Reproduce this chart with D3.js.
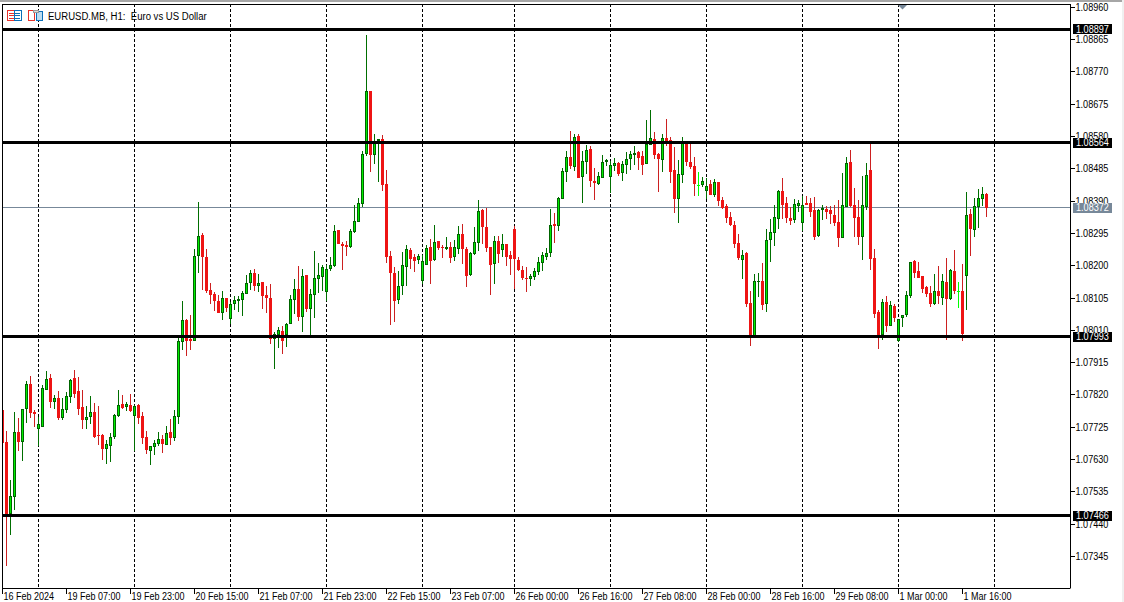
<!DOCTYPE html>
<html><head><meta charset="utf-8">
<script src="https://cdn.jsdelivr.net/npm/d3@7/dist/d3.min.js"></script>
<style>
html,body{margin:0;padding:0;background:#fff;overflow:hidden}
svg{display:block}
text{font-family:"Liberation Sans",Arial,sans-serif;font-size:10px;fill:#000}
</style></head><body>
<svg id="c" width="1124" height="602"></svg>
<script>
// Prices in points (1 point = 0.00001)
const opens=[107776,107682,107470,107521,107712,107682,107778,107853,107770,107721,
107727,107835,107870,107800,107811,107753,107776,107814,107870,107832,
107785,107745,107756,107770,107703,107703,107662,107670,107697,107759,
107794,107785,107791,107759,107791,107759,107697,107656,107667,107676,
107691,107673,107712,107694,107756,107976,108041,107985,107979,108229,
108291,108226,108129,108117,108097,108061,108105,108044,108088,108097,
108100,108117,108150,108179,108141,108153,108114,108105,107985,107997,
108008,107996,108029,108100,108132,108050,108173,108073,108114,108161,
108167,108123,108191,108200,108305,108264,108261,108255,108300,108329,
108381,108528,108714,108525,108567,108573,108440,108229,108179,108099,
108140,108196,108246,108226,108217,108155,108202,108255,108217,108273,
108255,108249,108255,108226,108249,108293,108249,108173,108234,108267,
108364,108314,108255,108205,108273,108246,108264,108232,108308,108217,
108187,108164,108161,108167,108182,108208,108226,108238,108323,108317,
108396,108476,108520,108491,108582,108461,108505,108543,108449,108441,
108458,108505,108461,108493,108502,108473,108496,108514,108526,108535,
108523,108499,108555,108573,108529,108511,108576,108570,108482,108396,
108467,108561,108505,108494,108439,108438,108420,108441,108408,108447,
108394,108376,108344,108320,108267,108217,108238,108091,107987,108153,
108155,108088,108276,108297,108338,108420,108385,108341,108335,108376,
108326,108385,108385,108364,108288,108364,108367,108364,108350,108329,
108282,108373,108505,108379,108344,108285,108373,108482,108223,108064,
107997,108094,108023,108082,107979,108047,108056,108111,108214,108185,
108170,108138,108120,108088,108126,108105,108153,108103,108185,108127,
108126,108170,108352,108305,108373,108397,108411];
const highs=[107776,107715,107570,107770,107753,107778,107861,107876,107776,107756,
107850,107891,107882,107820,107832,107811,107829,107867,107894,107873,
107835,107788,107817,107797,107788,107706,107688,107709,107764,107835,
107820,107800,107823,107791,107794,107770,107714,107670,107688,107712,
107703,107729,107750,107776,107987,108097,108044,108055,108250,108388,
108297,108250,108150,108123,108114,108126,108105,108094,108111,108111,
108126,108173,108188,108191,108176,108153,108141,108147,108006,108020,
108023,108032,108114,108161,108200,108191,108173,108132,108244,108208,
108202,108202,108226,108320,108305,108270,108273,108308,108379,108399,
108537,108878,108714,108587,108573,108584,108481,108243,108196,108184,
108240,108261,108252,108234,108234,108231,108261,108279,108320,108273,
108261,108284,108270,108276,108317,108323,108255,108240,108314,108393,
108367,108370,108255,108287,108287,108293,108264,108243,108317,108226,
108199,108196,108176,108193,108226,108240,108252,108367,108355,108402,
108488,108538,108596,108588,108588,108538,108555,108552,108488,108476,
108526,108514,108508,108517,108505,108508,108535,108538,108552,108538,
108538,108629,108658,108593,108532,108588,108632,108579,108549,108511,
108579,108564,108564,108520,108476,108461,108458,108452,108455,108447,
108402,108382,108358,108332,108294,108247,108241,108126,108176,108179,
108208,108308,108338,108379,108423,108458,108402,108373,108397,108394,
108405,108405,108399,108402,108367,108379,108376,108376,108379,108394,
108473,108520,108541,108429,108394,108464,108502,108560,108250,108070,
108103,108111,108097,108088,108044,108056,108126,108211,108217,108211,
108170,108141,108141,108176,108200,108176,108223,108191,108247,108153,
108205,108417,108367,108399,108426,108432,108414];
const lows=[107680,107318,107409,107482,107656,107626,107738,107753,107725,107670,
107727,107835,107782,107779,107747,107747,107767,107797,107811,107761,
107720,107720,107735,107694,107673,107629,107617,107623,107691,107756,
107779,107773,107770,107656,107735,107676,107647,107614,107644,107670,
107650,107673,107673,107685,107735,107953,107935,107953,107979,108179,
108129,108120,108088,108067,108061,108041,108064,108029,108070,108064,
108053,108117,108129,108126,108123,108073,108061,107970,107897,107958,
107941,107961,108029,108058,108038,108006,108064,107997,108047,108120,
108126,108097,108185,108197,108264,108187,108229,108252,108297,108329,
108373,108523,108476,108499,108446,108420,108208,108026,108035,108087,
108114,108140,108190,108182,108205,108146,108202,108146,108214,108246,
108223,108246,108208,108214,108234,108205,108137,108170,108231,108243,
108264,108240,108114,108146,108208,108226,108199,108173,108131,108184,
108158,108123,108140,108158,108173,108185,108217,108226,108267,108302,
108396,108446,108485,108479,108458,108385,108470,108432,108393,108438,
108458,108493,108414,108479,108464,108449,108470,108482,108496,108482,
108467,108499,108555,108514,108417,108476,108552,108443,108355,108326,
108443,108493,108485,108405,108405,108432,108396,108408,108402,108376,
108367,108326,108317,108252,108217,108161,108079,107964,107987,108108,
108070,108064,108211,108258,108308,108338,108326,108320,108326,108358,
108302,108379,108344,108276,108285,108335,108338,108323,108317,108255,
108282,108373,108373,108285,108261,108217,108364,108188,108047,107956,
107982,108006,108023,108035,107976,108020,108050,108105,108164,108164,
108120,108108,108079,108085,108088,108085,107982,108100,108117,108076,
107979,108070,108229,108285,108311,108376,108344];
const closes=[107680,107461,107523,107712,107682,107778,107853,107768,107765,107735,
107841,107867,107800,107811,107753,107779,107817,107864,107823,107779,
107747,107756,107770,107697,107700,107662,107676,107697,107761,107791,
107782,107794,107773,107788,107753,107694,107659,107670,107679,107691,
107676,107709,107694,107759,107979,108041,107979,107979,108229,108288,
108226,108126,108114,108097,108061,108105,108076,108088,108100,108103,
108120,108150,108179,108141,108150,108111,108105,107985,108000,108011,
107979,108029,108103,108132,108050,108170,108073,108117,108164,108173,
108197,108191,108202,108302,108264,108258,108255,108302,108332,108384,
108528,108714,108525,108564,108573,108437,108226,108179,108096,108140,
108202,108249,108220,108214,108229,108214,108252,108214,108270,108252,
108252,108255,108223,108255,108293,108249,108170,108237,108270,108361,
108314,108252,108202,108273,108234,108264,108226,108220,108220,108187,
108164,108161,108170,108184,108211,108232,108238,108320,108317,108399,
108479,108520,108494,108579,108458,108508,108540,108449,108443,108464,
108505,108511,108496,108502,108470,108499,108514,108529,108532,108517,
108496,108558,108576,108526,108514,108576,108561,108476,108396,108470,
108567,108505,108490,108441,108439,108449,108435,108408,108447,108391,
108370,108341,108320,108264,108223,108232,108088,107987,108155,108155,
108085,108276,108300,108344,108420,108379,108341,108332,108382,108385,
108379,108379,108358,108285,108364,108370,108358,108352,108326,108282,
108379,108502,108376,108341,108285,108379,108467,108220,108058,107987,
108094,108023,108085,108047,108044,108056,108114,108211,108179,108164,
108132,108117,108088,108126,108111,108155,108103,108188,108126,108127,
108000,108350,108308,108376,108399,108411,108370];

const yTickValues=[1.08960,1.08865,1.08770,1.08675,1.08580,1.08485,1.08390,1.08295,1.08200,1.08105,1.08010,1.07915,1.07820,1.07725,1.07630,1.07535,1.07440,1.07345];
const xTickBars=[0,16,32,48,64,80,96,112,128,144,160,176,192,208,224,240];
const xTickLabels=["16 Feb 2024","19 Feb 07:00","19 Feb 23:00","20 Feb 15:00","21 Feb 07:00","21 Feb 23:00","22 Feb 15:00","23 Feb 07:00","26 Feb 00:00","26 Feb 16:00","27 Feb 08:00","28 Feb 00:00","28 Feb 16:00","29 Feb 08:00","1 Mar 00:00","1 Mar 16:00"];
const daySeparatorBars=[9,33,57,81,105,128,152,176,200,224,248];
const levelLines=[1.08897,1.08564,1.07993,1.07466];
const bidPrice=1.08372;
const titleText="EURUSD.MB, H1:  Euro vs US Dollar";

const svg=d3.select("#c");
const L=2,R=1070,T=4,B=588;
const x=d3.scaleLinear().domain([0,246]).range([2.5,986.5]);
const y=d3.scaleLinear().domain([1.07345,1.0896]).range([556.4,7.4]);
const P=v=>v/100000;
const fmt=d3.format(".5f");
function fit(sel,factor){
  sel.each(function(){
    const n=this.getComputedTextLength();
    d3.select(this).attr("textLength",(n*factor).toFixed(1)).attr("lengthAdjust","spacingAndGlyphs");
  });
}

svg.append("rect").attr("x",0).attr("y",0).attr("width",1124).attr("height",2).attr("fill","#a6a6a6");
svg.append("rect").attr("x",1122).attr("y",0).attr("width",2).attr("height",602).attr("fill","#f0f0f0");

svg.append("defs").append("clipPath").attr("id","plot").append("rect")
  .attr("x",L).attr("y",T).attr("width",R-L).attr("height",B-T);
const plot=svg.append("g").attr("clip-path","url(#plot)").attr("shape-rendering","crispEdges");

// period separators
plot.selectAll(".sep").data(daySeparatorBars).join("line").attr("class","sep")
  .attr("x1",d=>x(d)).attr("x2",d=>x(d)).attr("y1",T).attr("y2",B)
  .attr("stroke","#000").attr("stroke-width",1).attr("stroke-dasharray","3,2");

// bid line
plot.append("line").attr("x1",L).attr("x2",R)
  .attr("y1",Math.floor(y(bidPrice))+.5).attr("y2",Math.floor(y(bidPrice))+.5)
  .attr("stroke","#778899").attr("stroke-width",1);

// candles
const bars=opens.map((o,i)=>({i,o:P(o),h:P(highs[i]),l:P(lows[i]),c:P(closes[i])}));
const GREEN_W="#006e00",RED_W="#cc2020",RED_B="#ee1414",GREEN_F="#00ee00",GREEN_S="#006400",DOJI="#00ff00";
const g=plot.selectAll(".bar").data(bars).join("g").attr("class","bar");
g.append("rect")
  .attr("x",d=>x(d.i)-.5).attr("width",1)
  .attr("y",d=>y(d.h)).attr("height",d=>Math.max(1,y(d.l)-y(d.h)))
  .attr("fill",d=>d.c===d.o?DOJI:(d.c>d.o?GREEN_W:RED_W));
g.append("rect")
  .attr("x",d=>x(d.i)-1.5).attr("width",3)
  .attr("y",d=>y(Math.max(d.o,d.c)))
  .attr("height",d=>Math.max(1,Math.abs(y(d.o)-y(d.c))))
  .attr("fill",d=>d.c===d.o?DOJI:(d.c>d.o?GREEN_S:RED_B));
g.filter(d=>d.c>d.o && y(d.o)-y(d.c)>2).append("rect")
  .attr("x",d=>x(d.i)-.5).attr("width",1)
  .attr("y",d=>y(d.c)+1)
  .attr("height",d=>y(d.o)-y(d.c)-2)
  .attr("fill",GREEN_F);

// level lines
plot.selectAll(".lvl").data(levelLines).join("line").attr("class","lvl")
  .attr("x1",L).attr("x2",R).attr("y1",d=>y(d)+.5).attr("y2",d=>y(d)+.5)
  .attr("stroke","#000").attr("stroke-width",3);

// frame
svg.append("line").attr("x1",L).attr("x2",R).attr("y1",T+.5).attr("y2",T+.5).attr("stroke","#000").attr("shape-rendering","crispEdges");
svg.append("line").attr("x1",L+.5).attr("x2",L+.5).attr("y1",T).attr("y2",B).attr("stroke","#000").attr("shape-rendering","crispEdges");

// axes
const yAxis=d3.axisRight(y).tickValues(yTickValues).tickFormat(fmt).tickSize(4).tickPadding(1).offset(0);
const ya=svg.append("g").attr("transform",`translate(${R+.5},0)`).call(yAxis);
ya.select(".domain").attr("d",`M0,${T}V${B+.5}`).attr("stroke","#000");
ya.selectAll("line").attr("stroke","#000").attr("shape-rendering","crispEdges");
ya.selectAll("text").style("font-size","10px").style("font-family",'"Liberation Sans"').attr("dy","0.35em").call(fit,.91);
ya.attr("font-family",null).attr("font-size",null);

const labelOf=new Map(xTickBars.map((b,i)=>[b,xTickLabels[i]]));
const xAxis=d3.axisBottom(x).tickValues(xTickBars).tickFormat(d=>labelOf.get(d)).tickSize(5).tickPadding(1).offset(0);
const xa=svg.append("g").attr("transform",`translate(0,${B+.5})`).call(xAxis);
xa.select(".domain").attr("d",`M${L},0H${R}`).attr("stroke","#000");
xa.selectAll("line").attr("stroke","#000").attr("shape-rendering","crispEdges");
xa.selectAll("text").attr("text-anchor","start").attr("dx",1).attr("x",0).attr("y",11.5).attr("dy",0).style("font-size","10px").style("font-family",'"Liberation Sans"').call(fit,.9);
xa.attr("font-family",null).attr("font-size",null);

// price tags
function tag(p,bg,fg){
  const c=y(p);
  svg.append("rect").attr("x",1073).attr("y",Math.round(c+.5)-5).attr("width",39).attr("height",10).attr("fill",bg);
  svg.append("text").attr("x",1076).attr("y",c+.5).attr("dy","0.36em").style("fill",fg).text(fmt(p)).call(fit,.91);
}
levelLines.forEach(p=>tag(p,"#000","#fff"));
tag(bidPrice,"#778899","#fff");

// header icons and title
const ic=svg.append("g").attr("fill","none").attr("shape-rendering","crispEdges");
ic.append("rect").attr("x",7.5).attr("y",10.5).attr("width",7).attr("height",10).attr("stroke","#e8322a");
ic.append("rect").attr("x",14.5).attr("y",10.5).attr("width",7).attr("height",10).attr("stroke","#0a6fb8");
[13,15.5,18].forEach(v=>{
  ic.append("line").attr("x1",9).attr("x2",14).attr("y1",v).attr("y2",v).attr("stroke","#e8322a");
  ic.append("line").attr("x1",15).attr("x2",20).attr("y1",v).attr("y2",v).attr("stroke","#0a6fb8");
});
ic.append("path").attr("d","M28.5,10.5H33.5L34.5,13V20.5H28.5Z").attr("stroke","#e8322a");
ic.append("rect").attr("x",36.5).attr("y",11.5).attr("width",6).attr("height",9).attr("fill","#bcdcf0").attr("stroke","#0a6fb8");
ic.append("rect").attr("x",33.5).attr("y",10.5).attr("width",5).attr("height",2).attr("fill","#ddd").attr("stroke","#999");
svg.append("text").attr("x",48).attr("y",19.5).style("font-size","10px").style("white-space","pre").text(titleText).call(fit,.955);

// marker at top
svg.append("path").attr("d","M898,5H907L902.5,9.5Z").attr("fill","#778899");
</script>
</body></html>
